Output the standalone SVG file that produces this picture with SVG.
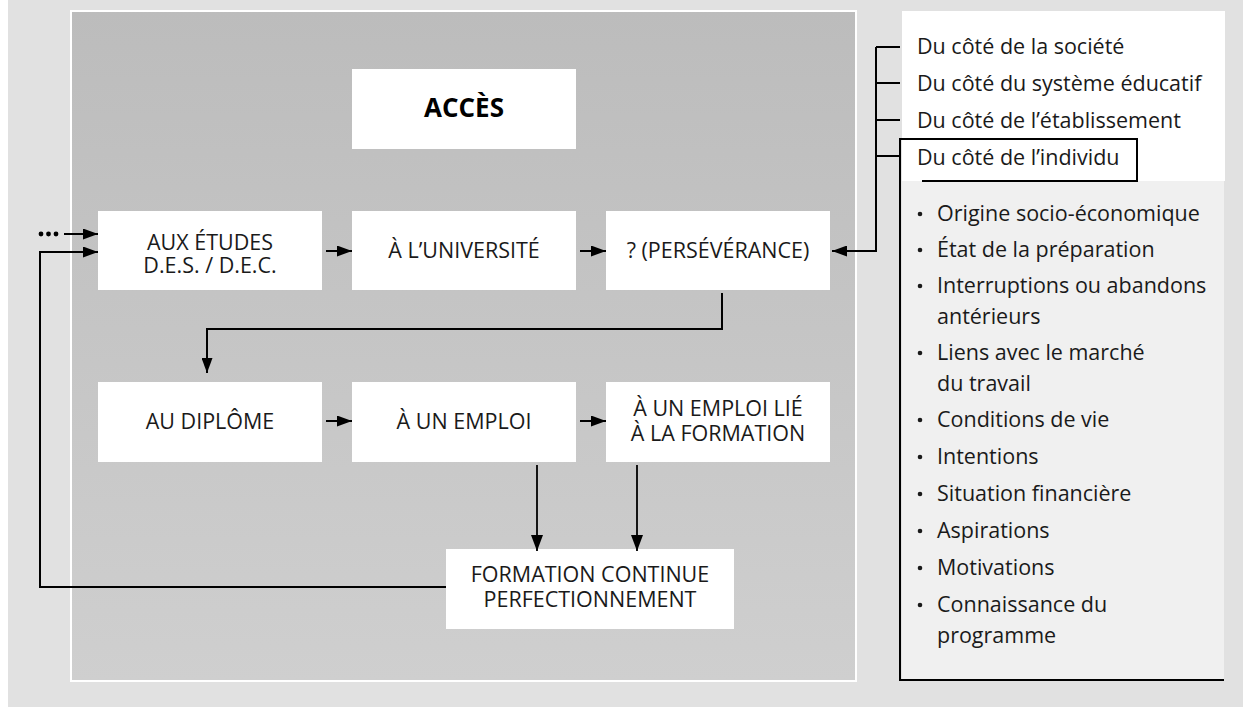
<svg xmlns="http://www.w3.org/2000/svg" width="1243" height="707" viewBox="0 0 1243 707">
<defs>
<linearGradient id="pg" x1="0" y1="0" x2="0" y2="1">
<stop offset="0" stop-color="#bcbcbc"/>
<stop offset="1" stop-color="#cfcfcf"/>
</linearGradient>
<marker id="ah" viewBox="0 0 15 11" refX="15" refY="5.5" markerWidth="15" markerHeight="11" markerUnits="userSpaceOnUse" orient="auto">
<path d="M0,0 L15,5.5 L0,11 Z" fill="#000"/>
</marker>
<marker id="ahv" viewBox="0 0 16 12" refX="16" refY="6" markerWidth="16" markerHeight="12" markerUnits="userSpaceOnUse" orient="auto">
<path d="M0,0 L16,6 L0,12 Z" fill="#000"/>
</marker>
</defs>
<style>
.box{fill:#fff}
.t{font-family:"Open Sans","DejaVu Sans",sans-serif;font-size:21.5px;fill:#1a1a1a;text-anchor:middle}
.r{font-family:"Open Sans","DejaVu Sans",sans-serif;font-size:21.5px;fill:#1a1a1a}
.c{fill:none;stroke:#000;stroke-width:2}
.cv{fill:none;stroke:#000;stroke-width:1.8}
</style>
<rect x="0" y="0" width="1243" height="707" fill="#fff"/>
<rect x="8" y="0" width="1235" height="707" fill="#e1e1e1"/>
<rect x="71" y="11" width="785" height="670" fill="url(#pg)" stroke="#fff" stroke-width="2"/>
<rect x="902" y="11" width="323" height="170" fill="#fff"/>
<rect x="902" y="181" width="322" height="499" fill="#f0f0f0"/>

<g id="acces"><rect class="box" x="352" y="69" width="224" height="80"/><text x="464" y="117" style="font-family:'Open Sans','DejaVu Sans',sans-serif;font-size:26px;font-weight:bold;fill:#000;text-anchor:middle">ACCÈS</text></g>
<g id="etudes"><rect class="box" x="98" y="211" width="224" height="79"/><text class="t" x="210" y="250">AUX ÉTUDES</text><text class="t" x="210" y="273">D.E.S. / D.E.C.</text></g>
<g id="universite"><rect class="box" x="352" y="211" width="224" height="79"/><text class="t" x="464" y="258">À L’UNIVERSITÉ</text></g>
<g id="perseverance"><rect class="box" x="606" y="211" width="224" height="79"/><text class="t" x="718" y="258">? (PERSÉVÉRANCE)</text></g>
<g id="diplome"><rect class="box" x="98" y="382" width="224" height="80"/><text class="t" x="210" y="429">AU DIPLÔME</text></g>
<g id="emploi"><rect class="box" x="352" y="382" width="224" height="80"/><text class="t" x="464" y="429">À UN EMPLOI</text></g>
<g id="emploilie"><rect class="box" x="606" y="382" width="224" height="80"/><text class="t" x="718" y="416">À UN EMPLOI LIÉ</text><text class="t" x="718" y="441">À LA FORMATION</text></g>
<g id="formation"><rect class="box" x="446" y="549" width="288" height="80"/><text class="t" x="590" y="582">FORMATION CONTINUE</text><text class="t" x="590" y="607">PERFECTIONNEMENT</text></g>

<g id="facteurs">
<text class="r" x="917" y="54">Du côté de la société</text>
<text class="r" x="917" y="91">Du côté du système éducatif</text>
<text class="r" x="917" y="128">Du côté de l’établissement</text>
<text class="r" x="917" y="165">Du côté de l’individu</text>
<path class="c" d="M922,181 H1137 V139 H900 V680 H1224"/>
</g>
<g id="liste" class="r">
<g fill="#1a1a1a">
<circle cx="920" cy="214" r="2.3"/><circle cx="920" cy="250" r="2.3"/><circle cx="920" cy="286" r="2.3"/><circle cx="920" cy="353" r="2.3"/><circle cx="920" cy="420" r="2.3"/><circle cx="920" cy="457" r="2.3"/><circle cx="920" cy="494" r="2.3"/><circle cx="920" cy="531" r="2.3"/><circle cx="920" cy="568" r="2.3"/><circle cx="920" cy="605" r="2.3"/>
</g>
<text x="937" y="221">Origine socio-économique</text>
<text x="937" y="257">État de la préparation</text>
<text x="937" y="293">Interruptions ou abandons</text>
<text x="937" y="324">antérieurs</text>
<text x="937" y="360">Liens avec le marché</text>
<text x="937" y="391">du travail</text>
<text x="937" y="427">Conditions de vie</text>
<text x="937" y="464">Intentions</text>
<text x="937" y="501">Situation financière</text>
<text x="937" y="538">Aspirations</text>
<text x="937" y="575">Motivations</text>
<text x="937" y="612">Connaissance du</text>
<text x="937" y="643">programme</text>
</g>

<g id="connectors">
<g fill="#000"><circle cx="41" cy="234" r="2.4"/><circle cx="48.5" cy="234" r="2.4"/><circle cx="56" cy="234" r="2.4"/></g>
<path class="c" d="M64,234 H98" marker-end="url(#ah)"/>
<path class="c" d="M446,587 H40 V252 H98" marker-end="url(#ah)"/>
<path class="c" d="M326,251 H352" marker-end="url(#ah)"/>
<path class="c" d="M580,251 H606" marker-end="url(#ah)"/>
<path class="c" d="M876,47 V251 H832" marker-end="url(#ah)"/>
<path class="c" d="M876,47 H900 M876,83 H900 M876,120 H900 M876,156 H900"/>
<path class="c" d="M722,293 V329 H207 V373" marker-end="url(#ah)"/>
<path class="c" d="M326,421 H352" marker-end="url(#ah)"/>
<path class="c" d="M580,421 H606" marker-end="url(#ah)"/>
<path class="cv" d="M537,465 V551" marker-end="url(#ahv)"/>
<path class="cv" d="M637,465 V551" marker-end="url(#ahv)"/>
</g>
</svg>
